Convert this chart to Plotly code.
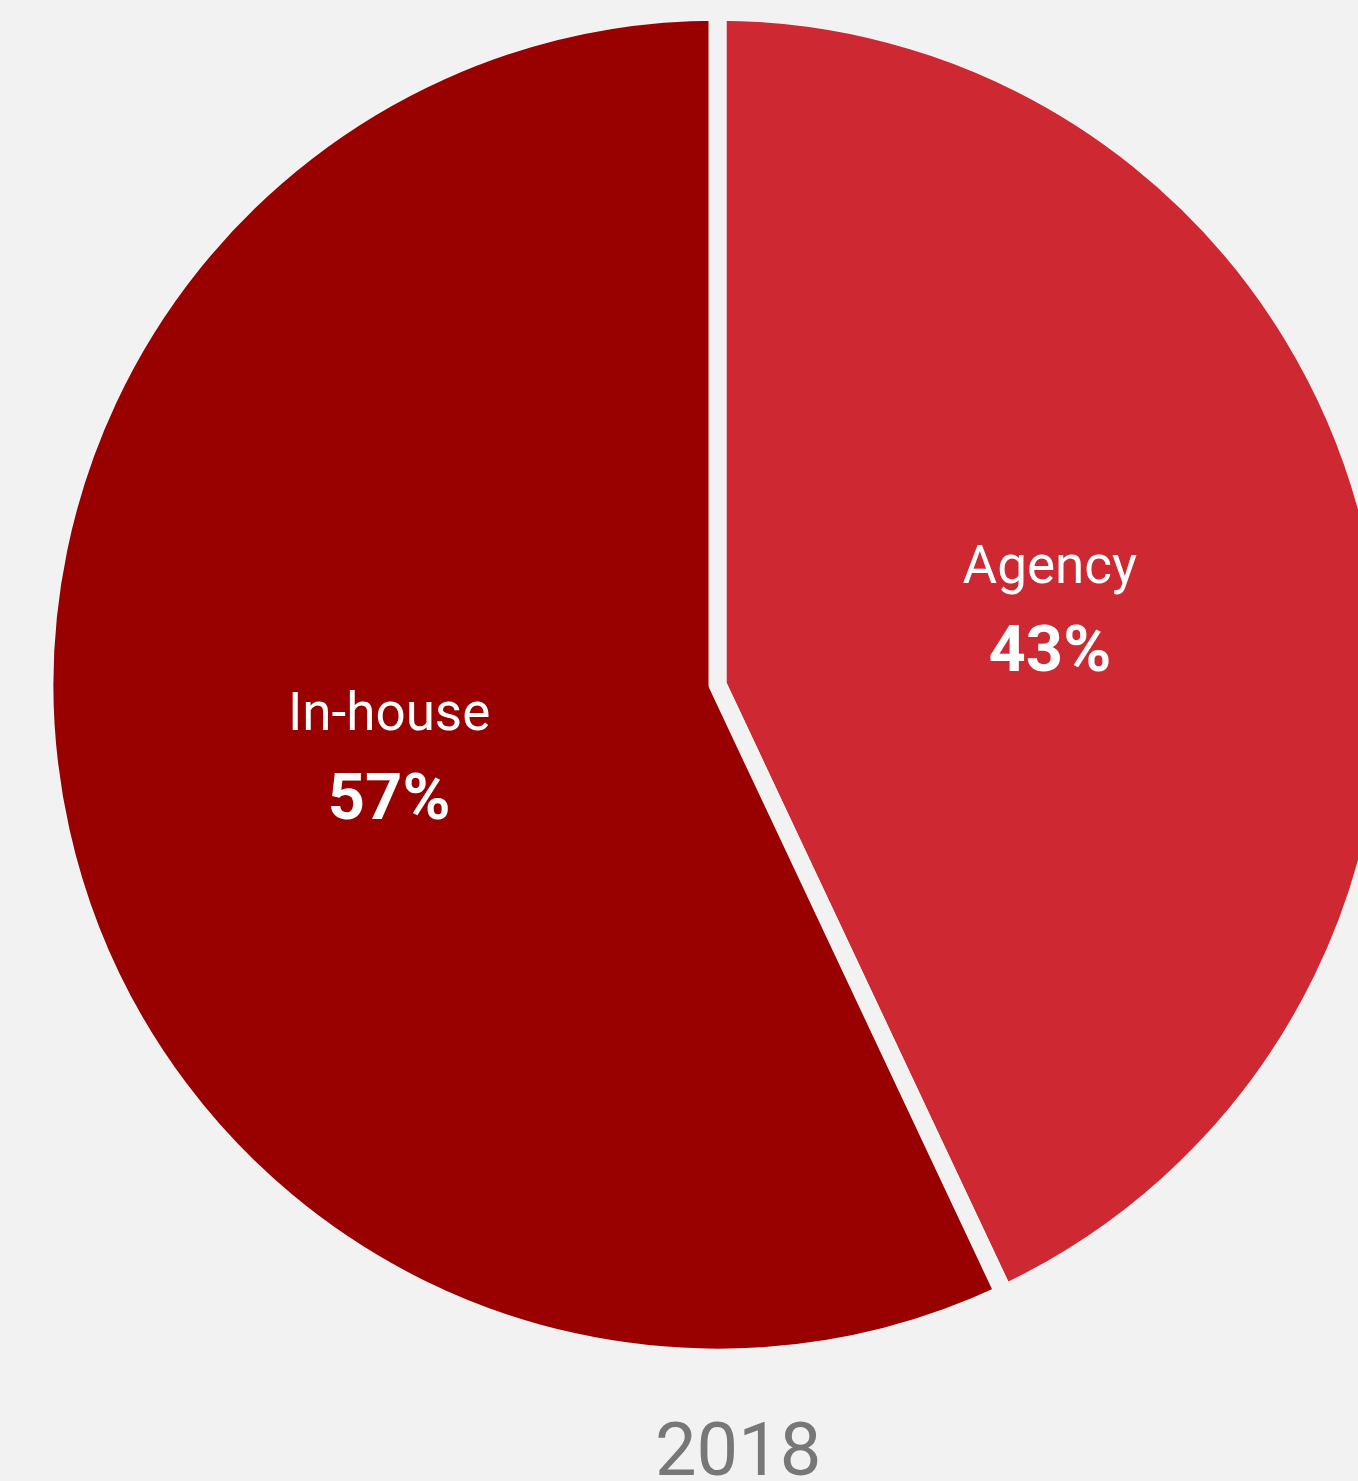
import plotly.graph_objects as go

# Share of work handled by agencies vs. in-house teams, 2018
categories = ["Agency", "In-house"]
shares = [43, 57]
slice_colors = ["#CE2832", "#990000"]
year_label = "2018"

BG = "#F2F2F2"
FIG_W = 1435
FIG_H = 1481

fig = go.Figure(
    go.Pie(
        labels=categories,
        values=shares,
        sort=False,
        direction="clockwise",
        rotation=0,
        marker=dict(colors=slice_colors, line=dict(color=BG, width=18)),
        textposition="inside",
        insidetextorientation="horizontal",
        texttemplate="<span style='font-size:53px'>%{label}</span><br>"
                     "<span style='font-size:65px'><b>%{percent:.0%}</b></span>",
        textfont=dict(family="Roboto", size=68, color="white"),
        hoverinfo="label+percent",
        showlegend=False,
        domain=dict(x=[0, 1], y=[0.0833, 0.9921]),
    )
)

fig.add_annotation(
    text=year_label,
    x=738 / FIG_W,
    y=0,
    xref="paper",
    yref="paper",
    xanchor="center",
    yanchor="bottom",
    yshift=-14,
    showarrow=False,
    font=dict(family="Roboto", size=74, color="#777777"),
)

fig.update_layout(
    width=FIG_W,
    height=FIG_H,
    autosize=False,
    margin=dict(l=0, r=0, t=0, b=0),
    paper_bgcolor=BG,
    plot_bgcolor=BG,
)

fig.write_html(
    "out.html",
    post_script="document.documentElement.style.overflow='hidden';"
                "document.body.style.overflow='hidden';"
                "document.body.style.margin='0';",
)
